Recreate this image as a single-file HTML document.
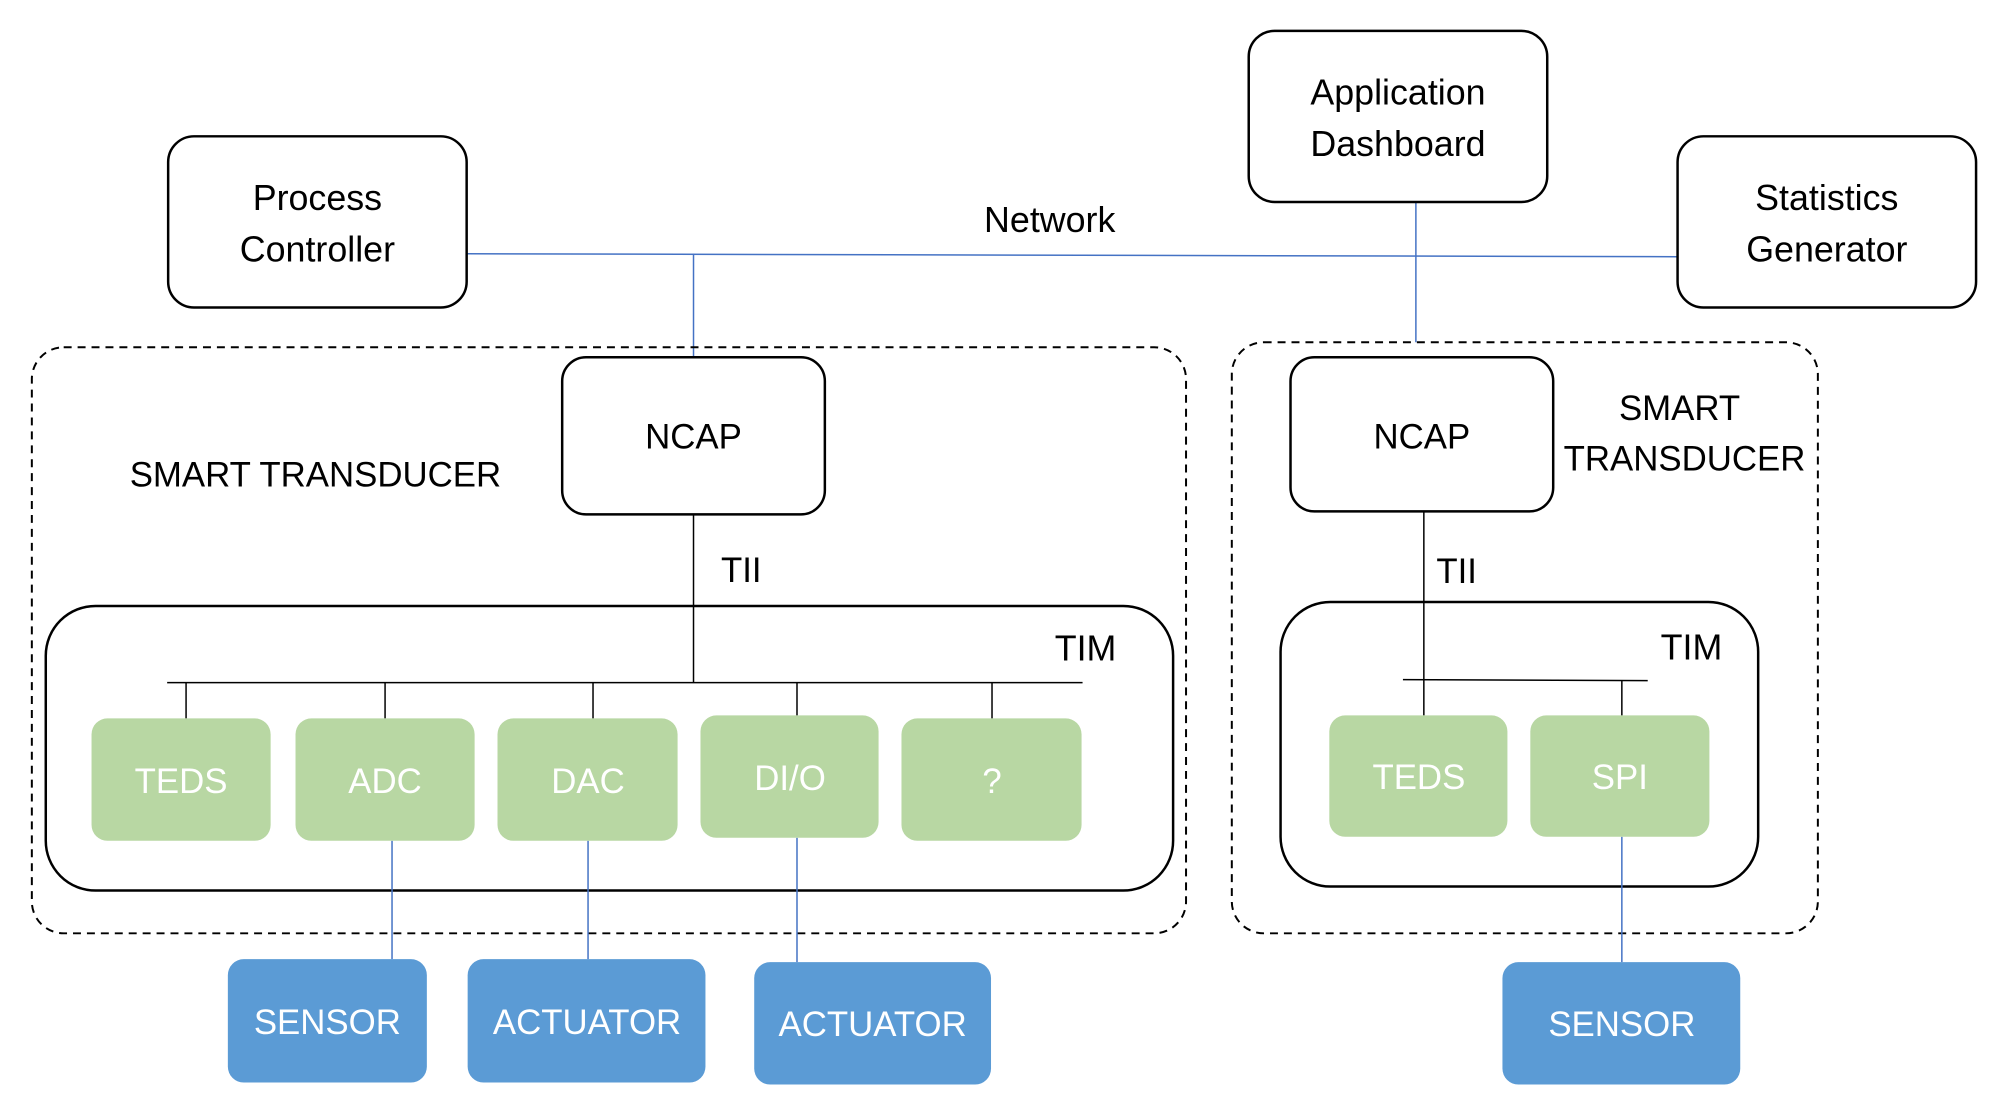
<!DOCTYPE html>
<html><head><meta charset="utf-8"><style>
html,body{margin:0;padding:0;background:#fff;}
svg{display:block;}
text{font-family:"Liberation Sans",sans-serif;}
</style></head><body>
<svg width="2000" height="1109" viewBox="0 0 2000 1109" xmlns="http://www.w3.org/2000/svg">
<g transform="scale(0.995)">
<line x1="469" y1="255" x2="1686" y2="258" stroke="#4472c4" stroke-width="1.5"/>
<line x1="697" y1="255" x2="697" y2="359" stroke="#4472c4" stroke-width="1.5"/>
<line x1="1423" y1="203" x2="1423" y2="344" stroke="#4472c4" stroke-width="1.5"/>
<g fill="#fff" stroke="#000" stroke-width="2.5">
<rect x="169" y="137" width="300" height="172" rx="26"/>
<rect x="1255" y="31" width="300" height="172" rx="26"/>
<rect x="1686" y="137" width="300" height="172" rx="26"/>
</g>
<g font-size="36" text-anchor="middle" fill="#000">
<text x="319" y="211">Process</text><text x="319" y="263">Controller</text>
<text x="1405" y="105">Application</text><text x="1405" y="157">Dashboard</text>
<text x="1836" y="211">Statistics</text><text x="1836" y="263">Generator</text>
<text x="1055" y="233">Network</text>
</g>
<g fill="none" stroke="#000" stroke-width="2" stroke-dasharray="8,6">
<rect x="32" y="349" width="1160" height="589" rx="32"/>
<rect x="1238" y="344" width="589" height="594" rx="32"/>
</g>
<g fill="#fff" stroke="#000" stroke-width="2.5">
<rect x="565" y="359" width="264" height="158" rx="24"/>
<rect x="1297" y="359" width="264" height="155" rx="24"/>
</g>
<g font-size="35" fill="#000" text-anchor="middle">
<text x="697" y="451">NCAP</text>
<text x="1429" y="451">NCAP</text>
<text x="317" y="489">SMART TRANSDUCER</text>
<text x="1688" y="422">SMART</text>
<text x="1693" y="473">TRANSDUCER</text>
<text x="745" y="585">TII</text>
<text x="1464" y="586">TII</text>
</g>
<g fill="none" stroke="#000" stroke-width="2.5">
<rect x="46" y="609" width="1133" height="286" rx="50"/>
<rect x="1287" y="605" width="480" height="286" rx="50"/>
</g>
<g font-size="36" fill="#000" text-anchor="middle">
<text x="1091" y="664">TIM</text>
<text x="1700" y="663">TIM</text>
</g>
<g stroke="#000" stroke-width="1.5">
<line x1="697" y1="517" x2="697" y2="686"/>
<line x1="168" y1="686" x2="1088" y2="686"/>
<line x1="187" y1="686" x2="187" y2="722"/>
<line x1="387" y1="686" x2="387" y2="722"/>
<line x1="596" y1="686" x2="596" y2="722"/>
<line x1="801" y1="686" x2="801" y2="719"/>
<line x1="997" y1="686" x2="997" y2="722"/>
<line x1="1431" y1="514" x2="1431" y2="719"/>
<line x1="1410" y1="683" x2="1656" y2="684"/>
<line x1="1630" y1="684" x2="1630" y2="719"/>
</g>
<g stroke="#4472c4" stroke-width="1.5">
<line x1="394" y1="845" x2="394" y2="964"/>
<line x1="591" y1="845" x2="591" y2="964"/>
<line x1="801" y1="842" x2="801" y2="967"/>
<line x1="1630" y1="841" x2="1630" y2="967"/>
</g>
<g fill="#b8d7a3">
<rect x="92" y="722" width="180" height="123" rx="16"/>
<rect x="297" y="722" width="180" height="123" rx="16"/>
<rect x="500" y="722" width="181" height="123" rx="16"/>
<rect x="704" y="719" width="179" height="123" rx="16"/>
<rect x="906" y="722" width="181" height="123" rx="16"/>
<rect x="1336" y="719" width="179" height="122" rx="16"/>
<rect x="1538" y="719" width="180" height="122" rx="16"/>
</g>
<g font-size="35" fill="#fff" text-anchor="middle">
<text x="182" y="797">TEDS</text>
<text x="387" y="797">ADC</text>
<text x="591" y="797">DAC</text>
<text x="794" y="794">DI/O</text>
<text x="997" y="797">?</text>
<text x="1426" y="793">TEDS</text>
<text x="1628" y="793">SPI</text>
</g>
<g fill="#5b9bd5">
<rect x="229" y="964" width="200" height="124" rx="16"/>
<rect x="470" y="964" width="239" height="124" rx="16"/>
<rect x="758" y="967" width="238" height="123" rx="16"/>
<rect x="1510" y="967" width="239" height="123" rx="16"/>
</g>
<g font-size="35" fill="#fff" text-anchor="middle">
<text x="329" y="1039">SENSOR</text>
<text x="590" y="1039">ACTUATOR</text>
<text x="877" y="1041">ACTUATOR</text>
<text x="1630" y="1041">SENSOR</text>
</g>
</g>
</svg>
</body></html>
